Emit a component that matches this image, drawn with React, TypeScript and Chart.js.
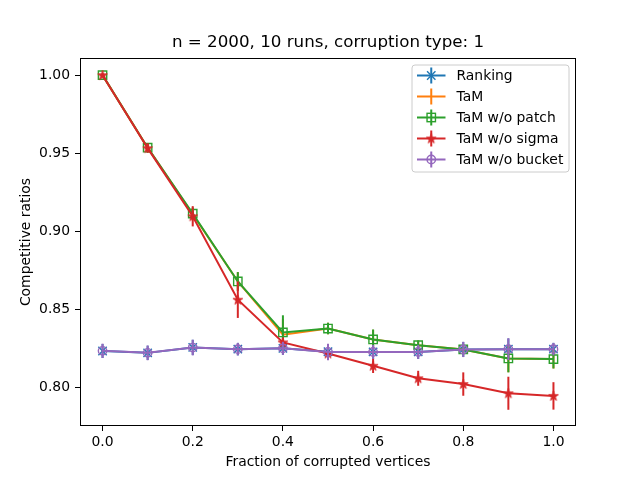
import React, { useEffect, useRef } from "react";
import { Chart, registerables } from "chart.js";

Chart.register(...registerables);

// ---------- data ----------
const fractions = [0, 0.1, 0.2, 0.3, 0.4, 0.5, 0.6, 0.7, 0.8, 0.9, 1.0];

const rankingValues = [0.8231, 0.8219, 0.8254, 0.8243, 0.8248, 0.8226, 0.8225, 0.8225, 0.8241, 0.8243, 0.8243];
const rankingErrors = [0.0045, 0.0046, 0.0049, 0.0040, 0.0041, 0.0050, 0.0045, 0.0045, 0.0048, 0.0068, 0.0040];

const tamValues = [1.0, 0.9535, 0.9108, 0.8677, 0.8335, 0.8375, 0.8305, 0.8268, 0.8241, 0.8183, 0.8179];
const tamErrors = [0.001, 0.003, 0.004, 0.006, 0.010, 0.0037, 0.0062, 0.003, 0.003, 0.0088, 0.006];

const noPatchValues = [1.0, 0.9535, 0.9112, 0.8677, 0.835, 0.8375, 0.8305, 0.8268, 0.8241, 0.8183, 0.8179];
const noPatchErrors = [0.001, 0.003, 0.004, 0.006, 0.011, 0.0037, 0.0064, 0.003, 0.003, 0.0089, 0.006];

const noSigmaValues = [1.0, 0.9532, 0.9095, 0.856, 0.8286, 0.8215, 0.8136, 0.8056, 0.8019, 0.796, 0.7943];
const noSigmaErrors = [0.001, 0.003, 0.0065, 0.0117, 0.003, 0.004, 0.0046, 0.0048, 0.0075, 0.0106, 0.0088];

const noBucketValues = [0.8232, 0.8219, 0.8253, 0.8243, 0.8248, 0.8225, 0.8225, 0.8225, 0.8241, 0.8243, 0.8243];
const noBucketErrors = [0.0046, 0.0047, 0.005, 0.004, 0.0042, 0.0053, 0.0045, 0.0045, 0.0049, 0.007, 0.004];

const seriesLabels = ["Ranking", "TaM", "TaM w/o patch", "TaM w/o sigma", "TaM w/o bucket"];
const xTicks = [0.0, 0.2, 0.4, 0.6, 0.8, 1.0];
const yTicks = [0.8, 0.85, 0.9, 0.95, 1.0];
const titleText = "n = 2000, 10 runs, corruption type: 1";
const xLabel = "Fraction of corrupted vertices";
const yLabel = "Competitive ratios";

// ---------- styles ----------
const FONT = "'DejaVu Sans', sans-serif";
const COLORS = ["#1f77b4", "#ff7f0e", "#2ca02c", "#d62728", "#9467bd"];
const MARKERS = ["x", "none", "square", "star", "circle"];

function makeStarCanvas(color: string): HTMLCanvasElement {
  const c = document.createElement("canvas");
  c.width = 12;
  c.height = 12;
  const ctx = c.getContext("2d")!;
  const cx = 6, cy = 6.3, R = 5.2, r = R * 0.381;
  ctx.beginPath();
  for (let i = 0; i < 10; i++) {
    const ang = -Math.PI / 2 + (i * Math.PI) / 5;
    const rad = i % 2 === 0 ? R : r;
    const px = cx + rad * Math.cos(ang);
    const py = cy + rad * Math.sin(ang);
    if (i === 0) ctx.moveTo(px, py);
    else ctx.lineTo(px, py);
  }
  ctx.closePath();
  ctx.fillStyle = color;
  ctx.fill();
  ctx.strokeStyle = color;
  ctx.lineWidth = 0.8;
  ctx.stroke();
  return c;
}

function drawMarker(ctx: CanvasRenderingContext2D, kind: string, x: number, y: number, color: string, star?: HTMLCanvasElement) {
  ctx.save();
  ctx.strokeStyle = color;
  ctx.lineWidth = 1.4;
  const h = 4.2;
  if (kind === "x") {
    ctx.beginPath();
    ctx.moveTo(x - h, y - h); ctx.lineTo(x + h, y + h);
    ctx.moveTo(x - h, y + h); ctx.lineTo(x + h, y - h);
    ctx.stroke();
  } else if (kind === "square") {
    ctx.strokeRect(x - h, y - h, 2 * h, 2 * h);
  } else if (kind === "circle") {
    ctx.beginPath();
    ctx.arc(x, y, h, 0, Math.PI * 2);
    ctx.stroke();
  } else if (kind === "star" && star) {
    ctx.drawImage(star, x - star.width / 2, y - star.height / 2);
  }
  ctx.restore();
}

const errorBarPlugin = {
  id: "errorBars",
  beforeDatasetDraw(chart: any, args: any) {
    const ds = chart.data.datasets[args.index];
    const errs: number[] = ds.errors;
    if (!errs) return;
    const { ctx, chartArea } = chart;
    const xs = chart.scales.x;
    const ys = chart.scales.y;
    ctx.save();
    ctx.beginPath();
    ctx.rect(chartArea.left, chartArea.top, chartArea.right - chartArea.left, chartArea.bottom - chartArea.top);
    ctx.clip();
    ctx.strokeStyle = ds.borderColor;
    ctx.lineWidth = 2;
    ds.data.forEach((p: any, i: number) => {
      const px = xs.getPixelForValue(p.x);
      const y1 = ys.getPixelForValue(p.y - errs[i]);
      const y2 = ys.getPixelForValue(p.y + errs[i]);
      ctx.beginPath();
      ctx.moveTo(px, y1);
      ctx.lineTo(px, y2);
      ctx.stroke();
    });
    ctx.restore();
  },
};

const framePlugin = {
  id: "frameAndLegend",
  afterDraw(chart: any) {
    const { ctx, chartArea } = chart;
    ctx.save();
    ctx.strokeStyle = "#000";
    ctx.lineWidth = 1;
    ctx.strokeRect(
      Math.round(chartArea.left) + 0.5,
      Math.round(chartArea.top) + 0.5,
      Math.round(chartArea.right - chartArea.left) - 1,
      Math.round(chartArea.bottom - chartArea.top) - 1
    );

    // title centred over the plot area
    ctx.fillStyle = "#000";
    ctx.font = `16.7px ${FONT}`;
    ctx.textAlign = "center";
    ctx.textBaseline = "middle";
    ctx.fillText(titleText, (chartArea.left + chartArea.right) / 2, chartArea.top - 15);

    // legend
    const boxW = 157, boxH = 107;
    const bx = chartArea.right - 7 - boxW;
    const by = chartArea.top + 7;
    const rr = 3;
    ctx.beginPath();
    ctx.moveTo(bx + rr, by);
    ctx.lineTo(bx + boxW - rr, by);
    ctx.quadraticCurveTo(bx + boxW, by, bx + boxW, by + rr);
    ctx.lineTo(bx + boxW, by + boxH - rr);
    ctx.quadraticCurveTo(bx + boxW, by + boxH, bx + boxW - rr, by + boxH);
    ctx.lineTo(bx + rr, by + boxH);
    ctx.quadraticCurveTo(bx, by + boxH, bx, by + boxH - rr);
    ctx.lineTo(bx, by + rr);
    ctx.quadraticCurveTo(bx, by, bx + rr, by);
    ctx.closePath();
    ctx.fillStyle = "rgba(255,255,255,0.8)";
    ctx.fill();
    ctx.strokeStyle = "#cccccc";
    ctx.lineWidth = 1;
    ctx.stroke();

    ctx.font = `13.9px ${FONT}`;
    ctx.textBaseline = "middle";
    ctx.textAlign = "left";
    chart.data.datasets.forEach((ds: any, i: number) => {
      const cy = by + 10.5 + i * 21;
      const x0 = bx + 5, x1 = bx + 33.5, xm = (x0 + x1) / 2;
      ctx.strokeStyle = ds.borderColor;
      ctx.lineWidth = 2;
      ctx.beginPath();
      ctx.moveTo(x0, cy); ctx.lineTo(x1, cy);
      ctx.moveTo(xm, cy - 8); ctx.lineTo(xm, cy + 8);
      ctx.stroke();
      drawMarker(ctx, ds.markerKind, xm, cy, ds.borderColor, ds.starCanvas);
      ctx.fillStyle = "#000";
      ctx.fillText(ds.label, bx + 44.5, cy + 1);
    });
    ctx.restore();
  },
};

export default function App() {
  const canvasRef = useRef<HTMLCanvasElement | null>(null);

  useEffect(() => {
    const canvas = canvasRef.current;
    if (!canvas) return;
    const allValues = [rankingValues, tamValues, noPatchValues, noSigmaValues, noBucketValues];
    const allErrors = [rankingErrors, tamErrors, noPatchErrors, noSigmaErrors, noBucketErrors];
    const star = makeStarCanvas(COLORS[3]);

    const datasets = seriesLabels.map((label, i) => {
      const kind = MARKERS[i];
      let pointStyle: any = "circle";
      let pointRadius = 4.2;
      if (kind === "x") { pointStyle = "crossRot"; pointRadius = 5.9; }
      else if (kind === "square") { pointStyle = "rect"; pointRadius = 5.9; }
      else if (kind === "star") { pointStyle = star; }
      else if (kind === "none") { pointRadius = 0; }
      return {
        label,
        data: fractions.map((x, j) => ({ x, y: allValues[i][j] })),
        errors: allErrors[i],
        markerKind: kind,
        starCanvas: star,
        borderColor: COLORS[i],
        backgroundColor: COLORS[i],
        borderWidth: 2,
        pointStyle,
        pointRadius,
        pointHoverRadius: pointRadius,
        pointBorderWidth: 1.4,
        pointBorderColor: COLORS[i],
        pointBackgroundColor: kind === "star" ? COLORS[i] : "rgba(0,0,0,0)",
        tension: 0,
        fill: false,
        order: 5 - i,
      } as any;
    });

    const chart = new Chart(canvas, {
      type: "line",
      data: { datasets },
      options: {
        animation: false,
        responsive: false,
        devicePixelRatio: 1,
        layout: { padding: { left: 0, right: 64, top: 58, bottom: 0 } },
        plugins: {
          legend: { display: false },
          tooltip: { enabled: false },
          title: { display: false },
        },
        scales: {
          x: {
            type: "linear",
            min: -0.05,
            max: 1.05,
            afterBuildTicks: (scale: any) => {
              scale.ticks = xTicks.map((v) => ({ value: v }));
            },
            afterFit: (scale: any) => {
              scale.height = 54;
            },
            ticks: {
              color: "#000",
              font: { family: FONT, size: 13.9 },
              padding: 3,
              maxRotation: 0,
              autoSkip: false,
              callback: (v: any) => Number(v).toFixed(1),
            },
            grid: {
              display: true,
              drawOnChartArea: false,
              drawTicks: true,
              tickLength: 5,
              tickColor: "#000",
              tickWidth: 1,
            },
            border: { display: false },
            title: {
              display: true,
              text: xLabel,
              color: "#000",
              font: { family: FONT, size: 13.9 },
              padding: { top: 4, bottom: 9.5 },
            },
          },
          y: {
            type: "linear",
            min: 0.775,
            max: 1.011,
            afterBuildTicks: (scale: any) => {
              scale.ticks = yTicks.map((v) => ({ value: v }));
            },
            afterFit: (scale: any) => {
              scale.width = 80;
            },
            ticks: {
              color: "#000",
              font: { family: FONT, size: 13.9 },
              padding: 5,
              autoSkip: false,
              callback: (v: any) => Number(v).toFixed(2),
            },
            grid: {
              display: true,
              drawOnChartArea: false,
              drawTicks: true,
              tickLength: 5,
              tickColor: "#000",
              tickWidth: 1,
            },
            border: { display: false },
            title: {
              display: true,
              text: yLabel,
              color: "#000",
              font: { family: FONT, size: 13.9 },
              padding: { top: 18, bottom: 0 },
            },
          },
        },
      },
      plugins: [errorBarPlugin, framePlugin],
    });

    return () => chart.destroy();
  }, []);

  return (
    <div style={{ position: "fixed", left: 0, top: 0, width: 640, height: 480, background: "#fff" }}>
      <canvas ref={canvasRef} width={640} height={480} style={{ width: 640, height: 480, display: "block" }} />
    </div>
  );
}
